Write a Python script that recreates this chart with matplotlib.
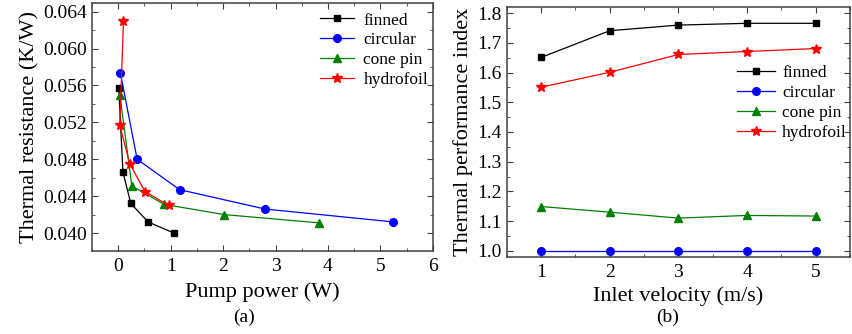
import matplotlib
matplotlib.use("Agg")
import matplotlib.pyplot as plt
from matplotlib.ticker import MultipleLocator, FormatStrFormatter

# ---------------------------------------------------------------------------
# Data
# ---------------------------------------------------------------------------

SERIES = ["finned", "circular", "cone pin", "hydrofoil"]

# (a) thermal resistance vs pump power
finned_power = [0.01, 0.09, 0.24, 0.57, 1.06]
finned_res = [0.0557, 0.0466, 0.0432, 0.0412, 0.0400]
circular_power = [0.04, 0.36, 1.17, 2.80, 5.25]
circular_res = [0.0574, 0.0480, 0.0447, 0.0426, 0.0412]
cone_power = [0.03, 0.26, 0.88, 2.02, 3.83]
cone_res = [0.0550, 0.0451, 0.0431, 0.0420, 0.0411]
hydro_power = [0.10, 0.03, 0.22, 0.51, 0.96]
hydro_res = [0.0630, 0.0517, 0.0475, 0.0445, 0.0430]

# (b) thermal performance index vs inlet velocity
velocity = [1, 2, 3, 4, 5]
finned_tpi = [1.651, 1.741, 1.760, 1.766, 1.766]
circular_tpi = [1.0, 1.0, 1.0, 1.0, 1.0]
cone_tpi = [1.149, 1.130, 1.110, 1.119, 1.117]
hydro_tpi = [1.551, 1.601, 1.661, 1.671, 1.681]

STYLES = {
    "finned": dict(color="black", marker="s", ms=4.5),
    "circular": dict(color="blue", marker="o", ms=5.5),
    "cone pin": dict(color="green", marker="^", ms=6),
    "hydrofoil": dict(color="red", marker="*", ms=7.5),
}

plt.rcParams.update({
    "font.family": ["Liberation Serif", "DejaVu Serif"],
    "axes.edgecolor": "#404040",
    "axes.linewidth": 1.1,
    "xtick.direction": "in",
    "ytick.direction": "in",
    "xtick.top": True,
    "ytick.right": True,
    "xtick.major.size": 4.5,
    "ytick.major.size": 4.5,
    "xtick.minor.size": 2.5,
    "ytick.minor.size": 2.5,
    "xtick.color": "#404040",
    "ytick.color": "#404040",
    "xtick.labelcolor": "black",
    "ytick.labelcolor": "black",
    "xtick.labelsize": 14,
    "ytick.labelsize": 14,
})


def style_axis(ax):
    ax.tick_params(which="both", direction="in", top=True, right=True)
    ax.tick_params(axis="x", pad=5)


fig = plt.figure(figsize=(8.52, 3.34), dpi=100)
ax1 = fig.add_axes([0.108, 0.2485, 0.400, 0.7415])
ax2 = fig.add_axes([0.5947, 0.2314, 0.4030, 0.7486])

# ---- (a)
a_data = [
    (finned_power, finned_res),
    (circular_power, circular_res),
    (cone_power, cone_res),
    (hydro_power, hydro_res),
]
for name, (x, y) in zip(SERIES, a_data):
    st = STYLES[name]
    ax1.plot(x, y, color=st["color"], marker=st["marker"], ms=st["ms"],
             lw=0.9, label=name)

ax1.set_xlim(-0.5, 6)
ax1.set_ylim(0.03805, 0.0649)
ax1.xaxis.set_major_locator(MultipleLocator(1))
ax1.xaxis.set_minor_locator(MultipleLocator(0.5))
ax1.yaxis.set_major_locator(MultipleLocator(0.004))
ax1.yaxis.set_minor_locator(MultipleLocator(0.002))
ax1.yaxis.set_major_formatter(FormatStrFormatter("%.3f"))
ax1.set_xlabel("Pump power (W)", fontsize=16, labelpad=5)
ax1.set_ylabel("Thermal resistance (K/W)", fontsize=16, labelpad=3)
style_axis(ax1)
ax1.legend(loc="upper left", bbox_to_anchor=(0.3756, 0.963),
           bbox_transform=fig.transFigure, frameon=False, fontsize=12.5,
           borderpad=0, borderaxespad=0, handlelength=1.95,
           handletextpad=0.55, labelspacing=0.22)

# ---- (b)
b_data = [finned_tpi, circular_tpi, cone_tpi, hydro_tpi]
for name, y in zip(SERIES, b_data):
    st = STYLES[name]
    ax2.plot(velocity, y, color=st["color"], marker=st["marker"], ms=st["ms"],
             lw=0.9, label=name)

ax2.set_xlim(0.5, 5.5)
ax2.set_ylim(0.98, 1.822)
ax2.xaxis.set_major_locator(MultipleLocator(1))
ax2.xaxis.set_minor_locator(MultipleLocator(0.5))
ax2.yaxis.set_major_locator(MultipleLocator(0.1))
ax2.yaxis.set_minor_locator(MultipleLocator(0.05))
ax2.yaxis.set_major_formatter(FormatStrFormatter("%.1f"))
ax2.set_xlabel("Inlet velocity (m/s)", fontsize=16, labelpad=4)
ax2.set_ylabel("Thermal performance index", fontsize=16, labelpad=3)
style_axis(ax2)
ax2.legend(loc="upper left", bbox_to_anchor=(0.865, 0.805),
           bbox_transform=fig.transFigure, frameon=False, fontsize=12.5,
           borderpad=0, borderaxespad=0, handlelength=2.2,
           handletextpad=0.4, labelspacing=0.22)

fig.text(0.286, 0.05, "(a)", ha="center", va="center", fontsize=14)
fig.text(0.783, 0.05, "(b)", ha="center", va="center", fontsize=14)

fig.savefig("out.png", dpi=100)
plt.close(fig)
